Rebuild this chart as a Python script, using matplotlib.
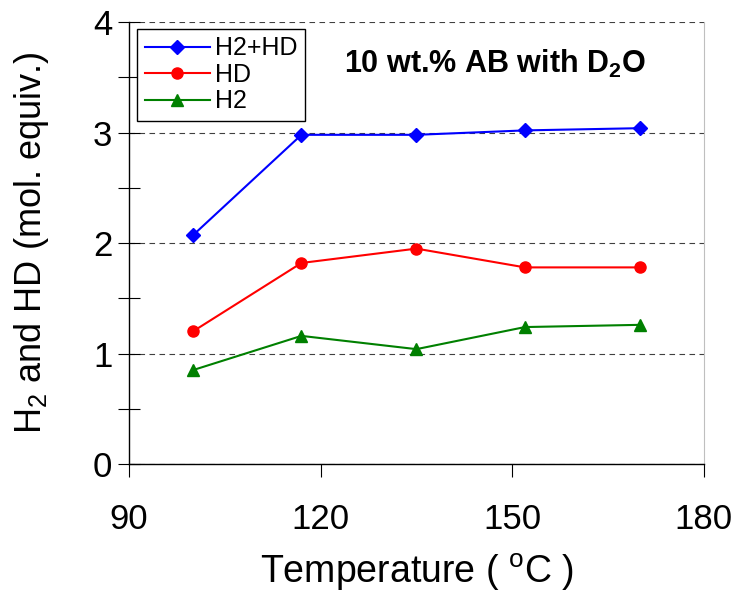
import matplotlib
matplotlib.use("Agg")
import matplotlib.pyplot as plt
from matplotlib.ticker import MultipleLocator

plt.rcParams['font.family'] = ['Liberation Sans', 'DejaVu Sans']
plt.rcParams['mathtext.fontset'] = 'custom'
plt.rcParams['mathtext.rm'] = 'Liberation Sans'
plt.rcParams['mathtext.it'] = 'Liberation Sans:italic'
plt.rcParams['mathtext.bf'] = 'Liberation Sans:bold'

# data
temperature = [100, 117, 135, 152, 170]
h2_hd = [2.07, 2.98, 2.98, 3.02, 3.04]
hd = [1.20, 1.82, 1.95, 1.78, 1.78]
h2 = [0.85, 1.16, 1.04, 1.24, 1.26]

fig = plt.figure(figsize=(7.37, 5.98), dpi=100)
ax = fig.add_axes([0.175, 0.224, 0.78, 0.739])

ax.plot(temperature, h2_hd, marker='D', color='#0000FF', lw=1.5, ms=7.5, label='H2+HD')
ax.plot(temperature, hd, marker='o', color='#FF0000', lw=1.5, ms=8, label='HD')
ax.plot(temperature, h2, marker='^', color='#008000', lw=1.5, ms=8.5, label='H2')

ax.set_xlim(90, 180)
ax.set_ylim(0, 4)
ax.xaxis.set_major_locator(MultipleLocator(30))
ax.yaxis.set_major_locator(MultipleLocator(1))
ax.yaxis.set_minor_locator(MultipleLocator(0.5))

ax.grid(axis='y', which='major', color='0.25', linestyle=(0, (5, 4)), linewidth=0.8)
ax.set_axisbelow(True)

ax.spines['top'].set_visible(False)
ax.spines['right'].set_color('0.75')
ax.spines['left'].set_linewidth(1.0)
ax.spines['bottom'].set_linewidth(1.0)

ax.tick_params(axis='y', which='both', direction='inout', length=16, width=0.8,
               labelsize=25, pad=4)
ax.tick_params(axis='x', which='major', direction='out', length=9, width=0.8,
               labelsize=25, pad=19)

ax.set_xlabel(r'Temperature ( $^{\rm o}$C )', fontsize=27, labelpad=11)
ax.set_ylabel(r'H$_2$ and HD (mol. equiv.)', fontsize=26, labelpad=30)

ax.text(0.636, 0.905, r'10 wt.% AB with D$_\mathbf{2}$O', transform=ax.transAxes,
        ha='center', va='center', fontsize=22, fontweight='bold')

leg = ax.legend(loc='upper left', bbox_to_anchor=(0.014, 0.985), fontsize=18,
                frameon=True, fancybox=False, edgecolor='black', framealpha=1,
                handlelength=2.6, handletextpad=0.2, borderpad=0.3,
                labelspacing=0.1, borderaxespad=0)
leg.get_frame().set_linewidth(1.0)

fig.savefig('out.png', dpi=100)
